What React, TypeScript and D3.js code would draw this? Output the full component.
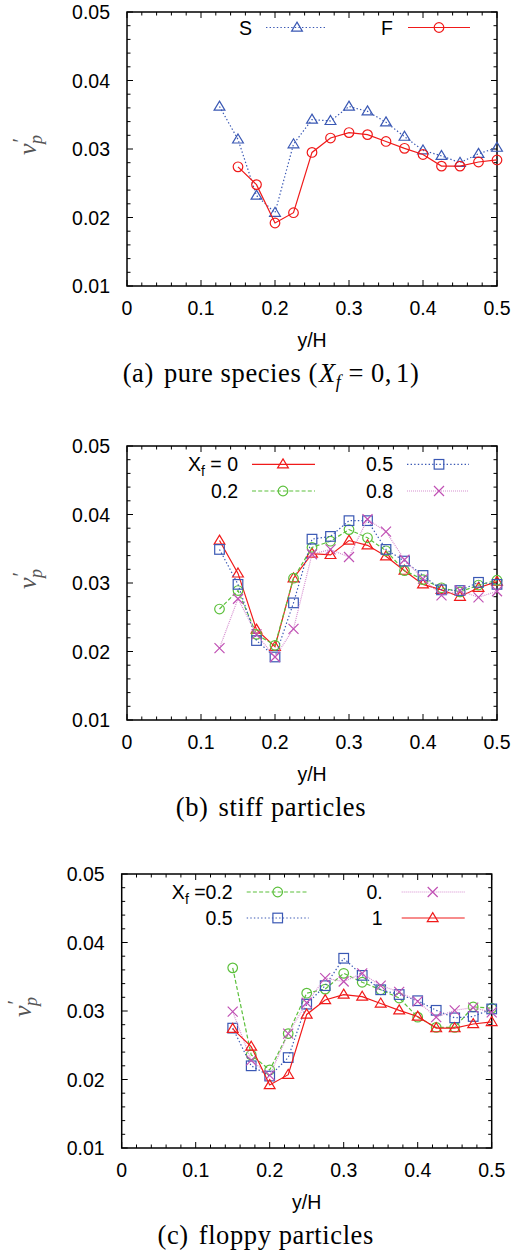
import React from 'react';
import * as d3 from 'd3';

// y/H stations
const yHStiff = [0.125, 0.15, 0.175, 0.2, 0.225, 0.25, 0.275, 0.3, 0.325, 0.35, 0.375, 0.4, 0.425, 0.45, 0.475, 0.5];
const yHFloppy = [0.15, 0.175, 0.2, 0.225, 0.25, 0.275, 0.3, 0.325, 0.35, 0.375, 0.4, 0.425, 0.45, 0.475, 0.5];

// v'_p values
const pureStiff = [0.0362, 0.0314, 0.0232, 0.0207, 0.0307, 0.0343, 0.0341, 0.0362, 0.0355, 0.0339, 0.0318, 0.0298, 0.029, 0.028, 0.0293, 0.0302];
const pureFloppy = [0.0274, 0.0248, 0.0192, 0.0207, 0.0295, 0.0316, 0.0324, 0.0321, 0.0311, 0.0301, 0.0292, 0.0275, 0.0275, 0.0281, 0.0284];
const stiff02 = [0.0262, 0.0289, 0.0225, 0.0209, 0.0307, 0.0352, 0.0361, 0.0378, 0.0366, 0.0347, 0.0318, 0.0305, 0.0293, 0.0287, 0.0297, 0.0304];
const stiff05 = [0.0349, 0.0298, 0.0216, 0.0192, 0.0271, 0.0364, 0.0368, 0.0391, 0.0391, 0.0349, 0.0332, 0.0311, 0.029, 0.0289, 0.0301, 0.0298];
const stiff08 = [0.0205, 0.0277, 0.0225, 0.0192, 0.0233, 0.0342, 0.0349, 0.0338, 0.0393, 0.0375, 0.0334, 0.0306, 0.0282, 0.0289, 0.0279, 0.0288];
const floppy02 = [0.0363, 0.0236, 0.0214, 0.0267, 0.0326, 0.0332, 0.0355, 0.0342, 0.0331, 0.0319, 0.0291, 0.0276, 0.0276, 0.0306, 0.0304];
const floppy05 = [0.0275, 0.022, 0.0205, 0.0232, 0.031, 0.0337, 0.0377, 0.0352, 0.0331, 0.0324, 0.0315, 0.0301, 0.029, 0.0292, 0.0303];
const floppy08 = [0.0299, 0.0228, 0.0206, 0.0267, 0.0312, 0.0348, 0.0343, 0.0355, 0.0337, 0.0328, 0.0314, 0.0291, 0.0301, 0.0305, 0.0298];

const xTickValues = [0, 0.1, 0.2, 0.3, 0.4, 0.5];
const yTickValues = [0.01, 0.02, 0.03, 0.04, 0.05];

const W = 370;
const H = 274;
const SANS = 'Liberation Sans, Arial, sans-serif';
const SERIF = 'Liberation Serif, Times New Roman, serif';

type MarkerKind = 'tri' | 'circ' | 'sq' | 'x';
type LineStyle = { color: string; lineColor: string; dash?: string; marker: MarkerKind };

const redTri: LineStyle = { color: '#f01a1a', lineColor: '#f01a1a', marker: 'tri' };
const redCirc: LineStyle = { color: '#f01a1a', lineColor: '#f01a1a', marker: 'circ' };
const blueTri: LineStyle = { color: '#3a58b4', lineColor: '#3a58b4', dash: '1.4 2.2', marker: 'tri' };
const greenCirc: LineStyle = { color: '#5cc03c', lineColor: '#5cc03c', dash: '4 2.2', marker: 'circ' };
const blueSq: LineStyle = { color: '#3a58b4', lineColor: '#3a58b4', dash: '1.4 2.2', marker: 'sq' };
const magX: LineStyle = { color: '#c050b4', lineColor: '#d68fd0', dash: '1 1', marker: 'x' };

type Series = { xs: number[]; ys: number[]; style: LineStyle };
type LegendEntry = {
  label: React.ReactNode;
  textX: number;
  x1: number;
  x2: number;
  mx: number;
  row: number;
  style: LineStyle;
};

const Marker = ({ kind, cx, cy, color }: { kind: MarkerKind; cx: number; cy: number; color: string }) => {
  const p = { fill: 'none', stroke: color, strokeWidth: 1.2 };
  if (kind === 'tri')
    return <path d={`M${cx},${cy - 5.4}L${cx + 5.4},${cy + 3.6}L${cx - 5.4},${cy + 3.6}Z`} {...p} />;
  if (kind === 'circ') return <circle cx={cx} cy={cy} r={4.8} {...p} />;
  if (kind === 'sq') return <rect x={cx - 4.8} y={cy - 4.8} width={9.6} height={9.6} {...p} />;
  return <path d={`M${cx - 5},${cy - 5}L${cx + 5},${cy + 5}M${cx - 5},${cy + 5}L${cx + 5},${cy - 5}`} {...p} />;
};

const Xf = ({ rest }: { rest: string }) => (
  <>
    X<tspan fontSize={14} dy={5}>f</tspan>
    <tspan dy={-5}>{rest}</tspan>
  </>
);

const Panel = ({
  left,
  top,
  series,
  legend,
  caption,
}: {
  left: number;
  top: number;
  series: Series[];
  legend: LegendEntry[];
  caption: React.ReactNode;
}) => {
  const x = d3.scaleLinear().domain([0, 0.5]).range([0, W]);
  const y = d3.scaleLinear().domain([0.01, 0.05]).range([H, 0]);
  const line = d3
    .line<[number, number]>()
    .x(d => x(d[0]))
    .y(d => y(d[1]));
  const xMinor = x.ticks(25);
  const yMinor = y.ticks(20);

  return (
    <g transform={`translate(${left},${top})`}>
      {/* ticks, all four sides, pointing inwards */}
      {xMinor.map(t => {
        const major = xTickValues.some(v => Math.abs(v - t) < 1e-9);
        const l = major ? 6 : 3.5;
        return (
          <g key={`xt${t}`} stroke="#000" strokeWidth={1}>
            <line x1={x(t)} x2={x(t)} y1={H} y2={H - l} />
            <line x1={x(t)} x2={x(t)} y1={0} y2={l} />
          </g>
        );
      })}
      {yMinor.map(t => {
        const major = yTickValues.some(v => Math.abs(v - t) < 1e-9);
        const l = major ? 6 : 3.5;
        return (
          <g key={`yt${t}`} stroke="#000" strokeWidth={1}>
            <line x1={0} x2={l} y1={y(t)} y2={y(t)} />
            <line x1={W} x2={W - l} y1={y(t)} y2={y(t)} />
          </g>
        );
      })}
      <rect x={0} y={0} width={W} height={H} fill="none" stroke="#000" strokeWidth={1.5} />

      {/* tick labels */}
      {xTickValues.map(t => (
        <text key={`xl${t}`} x={x(t)} y={H + 29} textAnchor="middle" fontFamily={SANS} fontSize={19.5}>
          {t === 0 ? '0' : d3.format('.1f')(t)}
        </text>
      ))}
      {yTickValues.map(t => (
        <text key={`yl${t}`} x={-17} y={y(t) + 7} textAnchor="end" fontFamily={SANS} fontSize={19.5}>
          {d3.format('.2f')(t)}
        </text>
      ))}
      <text x={W / 2} y={H + 61} textAnchor="middle" fontFamily={SANS} fontSize={19.5}>
        y/H
      </text>
      <text
        transform={`translate(${-91},${H / 2 - 4}) rotate(-90)`}
        textAnchor="middle"
        fontFamily={SERIF}
        fontSize={26}
        fill="#555"
      >
        <tspan fontStyle="italic">v</tspan>
        <tspan fontSize={20} dy={-9} dx={1}>′</tspan>
        <tspan fontSize={18} fontStyle="italic" dy={15} dx={-6}>p</tspan>
      </text>

      {/* data */}
      {series.map((s, i) => {
        const pts = s.xs.map((v, j) => [v, s.ys[j]] as [number, number]);
        return (
          <g key={`s${i}`}>
            <path
              d={line(pts) ?? ''}
              fill="none"
              stroke={s.style.lineColor}
              strokeWidth={1.2}
              strokeDasharray={s.style.dash}
            />
            {pts.map((p, j) => (
              <Marker key={j} kind={s.style.marker} cx={x(p[0])} cy={y(p[1])} color={s.style.color} />
            ))}
          </g>
        );
      })}

      {/* legend */}
      {legend.map((e, i) => (
        <g key={`lg${i}`}>
          <text x={e.textX} y={e.row + 7} textAnchor="end" fontFamily={SANS} fontSize={19.5}>
            {e.label}
          </text>
          <line
            x1={e.x1}
            x2={e.x2}
            y1={e.row}
            y2={e.row}
            stroke={e.style.lineColor}
            strokeWidth={1.2}
            strokeDasharray={e.style.dash}
          />
          <Marker kind={e.style.marker} cx={e.mx} cy={e.row} color={e.style.color} />
        </g>
      ))}

      <text x={144} y={H + 96} textAnchor="middle" fontFamily={SERIF} fontSize={26.5} letterSpacing={0.6}>
        {caption}
      </text>
    </g>
  );
};

export default function App() {
  return (
    <svg
      width={516}
      height={1255}
      style={{ position: 'absolute', left: 0, top: 0, background: '#fff' }}
    >
      <rect width={516} height={1255} fill="#fff" />
      <Panel
        left={127}
        top={12}
        series={[
          { xs: yHStiff, ys: pureStiff, style: blueTri },
          { xs: yHFloppy, ys: pureFloppy, style: redCirc },
        ]}
        legend={[
          { label: 'S', textX: 125, x1: 139, x2: 200, mx: 170, row: 15.5, style: blueTri },
          { label: 'F', textX: 266, x1: 281, x2: 343, mx: 312, row: 15.5, style: redCirc },
        ]}
        caption={
          <>
            (a)<tspan dx={10}>pure species (</tspan>
            <tspan fontStyle="italic" dx={1}>X</tspan>
            <tspan fontStyle="italic" fontSize={18} dy={6}>f</tspan>
            <tspan dy={-6} dx={7}>=</tspan>
            <tspan dx={7}>0,</tspan>
            <tspan dx={4}>1)</tspan>
          </>
        }
      />
      <Panel
        left={127}
        top={446}
        series={[
          { xs: yHStiff, ys: pureStiff, style: redTri },
          { xs: yHStiff, ys: stiff02, style: greenCirc },
          { xs: yHStiff, ys: stiff05, style: blueSq },
          { xs: yHStiff, ys: stiff08, style: magX },
        ]}
        legend={[
          { label: <Xf rest=" = 0" />, textX: 111, x1: 125, x2: 188, mx: 156, row: 18.3, style: redTri },
          { label: '0.2', textX: 111, x1: 125, x2: 188, mx: 156, row: 45, style: greenCirc },
          { label: '0.5', textX: 266, x1: 280, x2: 342, mx: 312, row: 18.3, style: blueSq },
          { label: '0.8', textX: 266, x1: 280, x2: 342, mx: 312, row: 45, style: magX },
        ]}
        caption={
          <>
            (b)<tspan dx={10}>stiff particles</tspan>
          </>
        }
      />
      <Panel
        left={121.7}
        top={874}
        series={[
          { xs: yHFloppy, ys: floppy02, style: greenCirc },
          { xs: yHFloppy, ys: floppy05, style: blueSq },
          { xs: yHFloppy, ys: floppy08, style: magX },
          { xs: yHFloppy, ys: pureFloppy, style: redTri },
        ]}
        legend={[
          { label: <Xf rest=" =0.2" />, textX: 111, x1: 125, x2: 187, mx: 156, row: 18, style: greenCirc },
          { label: '0.5', textX: 111, x1: 125, x2: 187, mx: 156, row: 44, style: blueSq },
          { label: '0.', textX: 261, x1: 280, x2: 343, mx: 311, row: 18, style: magX },
          { label: '1', textX: 261, x1: 280, x2: 343, mx: 311, row: 44, style: redTri },
        ]}
        caption={
          <>
            (c)<tspan dx={10}>floppy particles</tspan>
          </>
        }
      />
    </svg>
  );
}
